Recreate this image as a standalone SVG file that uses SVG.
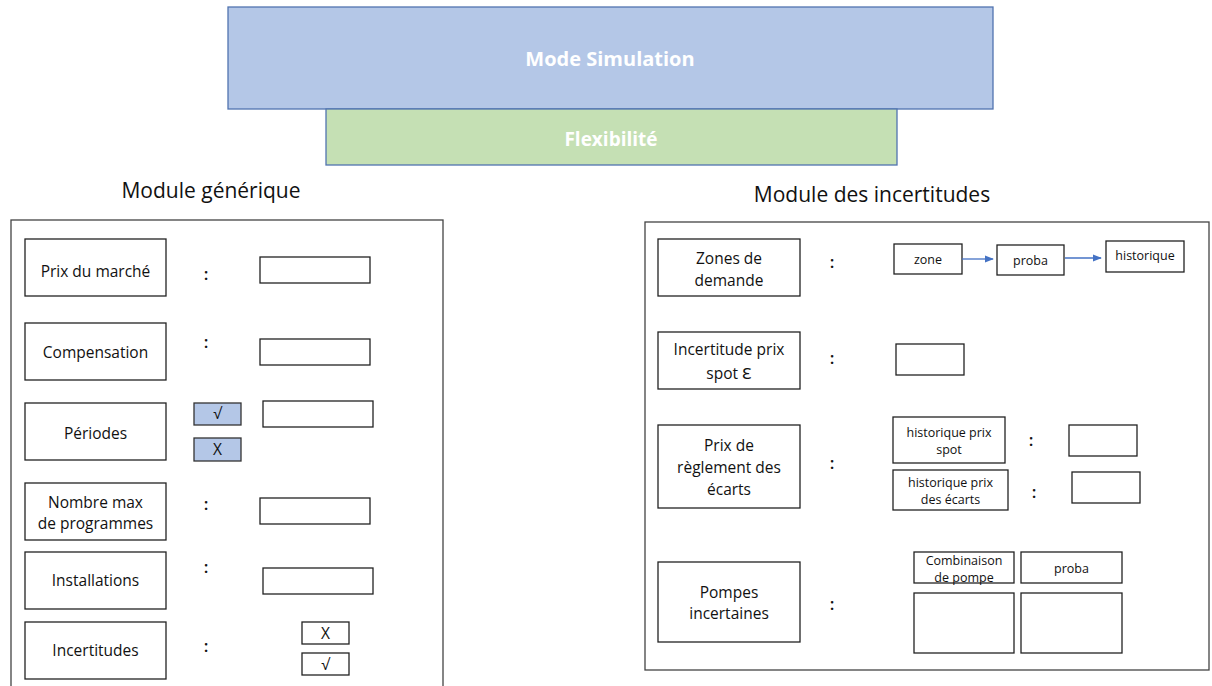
<svg xmlns="http://www.w3.org/2000/svg" width="1212" height="686" viewBox="0 0 1212 686">
<defs>
<style>
text{font-family:"Open Sans","Liberation Sans",sans-serif;fill:#111}
.b{fill:#fff;stroke:#222;stroke-width:1.3}
.p{fill:none;stroke:#444;stroke-width:1.3}
.chk{fill:#B4C7E7;stroke:#333;stroke-width:1.3}
.l{font-size:15.5px;text-anchor:middle}
.s{font-size:12.5px;text-anchor:middle}
.c{font-size:17px;text-anchor:middle;font-weight:600}
.t{font-size:21px;text-anchor:middle}
.a{stroke:#4472C4;stroke-width:1.3;fill:none}
</style>
<marker id="ah" viewBox="0 0 10 10" refX="9" refY="5" markerWidth="7" markerHeight="7" orient="auto"><path d="M0,1 L10,5 L0,9 z" fill="#4472C4"/></marker>
</defs>
<rect width="1212" height="686" fill="#fff"/>
<g id="mode-simulation">
<rect x="228" y="7" width="765" height="102" fill="#B4C7E7" stroke="#5174B0" stroke-width="1.3"/>
<text x="610" y="66" style="font-size:20px;font-weight:bold;fill:#fff;text-anchor:middle">Mode Simulation</text>
</g>
<g id="flexibilite">
<rect x="326" y="109" width="571" height="56" fill="#C5E0B4" stroke="#5174B0" stroke-width="1.3"/>
<text x="611" y="146" style="font-size:19px;font-weight:bold;fill:#fff;text-anchor:middle">Flexibilité</text>
</g>
<g id="module-generique">
<text class="t" x="211" y="198">Module générique</text>
<rect class="p" x="11" y="220" width="432" height="472"/>
</g>
<g id="prix-marche"><rect class="b" x="25" y="239" width="141" height="57"/><text class="l" x="95.5" y="276.5">Prix du marché</text><text class="c" x="206" y="280">:</text><rect class="b" x="260" y="257" width="110" height="26"/></g>
<g id="compensation"><rect class="b" x="25" y="323" width="141" height="57"/><text class="l" x="95.5" y="357.5">Compensation</text><text class="c" x="206" y="348">:</text><rect class="b" x="260" y="339" width="110" height="26"/></g>
<g id="periodes"><rect class="b" x="25" y="403" width="141" height="57"/><text class="l" x="95.5" y="438.5">Périodes</text>
<rect class="chk" x="194" y="403" width="47" height="22"/><text class="l" x="217.5" y="419">√</text>
<rect class="chk" x="194" y="438" width="47" height="23"/><text class="l" x="217.5" y="455">X</text>
<rect class="b" x="263" y="401" width="110" height="26"/></g>
<g id="nombre-max"><rect class="b" x="25" y="483" width="141" height="57"/><text class="l" x="95.5" y="507.5">Nombre max</text><text class="l" x="95.5" y="528.5">de programmes</text><text class="c" x="206" y="510">:</text><rect class="b" x="260" y="498" width="110" height="26"/></g>
<g id="installations"><rect class="b" x="25" y="552" width="141" height="57"/><text class="l" x="95.5" y="585.5">Installations</text><text class="c" x="206" y="573">:</text><rect class="b" x="263" y="568" width="110" height="26"/></g>
<g id="incertitudes"><rect class="b" x="25" y="622" width="141" height="57"/><text class="l" x="95.5" y="655.5">Incertitudes</text><text class="c" x="206" y="652">:</text>
<rect class="b" x="302" y="622" width="47" height="22"/><text class="l" x="325.5" y="638.5">X</text>
<rect class="b" x="302" y="653" width="47" height="22"/><text class="l" x="325.5" y="669.5">√</text></g>
<g id="module-incertitudes">
<text class="t" x="872" y="202">Module des incertitudes</text>
<rect class="p" x="645" y="222" width="564" height="448"/>
</g>
<g id="zones-demande"><rect class="b" x="658" y="239" width="142" height="57"/><text class="l" x="729" y="263.5">Zones de</text><text class="l" x="729" y="285.5">demande</text><text class="c" x="832" y="268">:</text>
<rect class="b" x="894" y="244" width="68" height="30"/><text class="s" x="928" y="263.5">zone</text>
<rect class="b" x="997" y="245" width="67" height="30"/><text class="s" x="1030.5" y="264.5">proba</text>
<rect class="b" x="1106" y="241" width="78" height="31"/><text class="s" x="1145" y="260">historique</text></g>
<g id="incertitude-spot"><rect class="b" x="658" y="332" width="142" height="57"/><text class="l" x="729" y="354.5">Incertitude prix</text><text class="l" x="729" y="379">spot  <tspan style="font-size:20px">ε</tspan></text><text class="c" x="832" y="364">:</text>
<rect class="b" x="896" y="344" width="68" height="31"/></g>
<g id="prix-reglement"><rect class="b" x="658" y="425" width="142" height="83"/><text class="l" x="729" y="450.5">Prix de</text><text class="l" x="729" y="472.5">règlement des</text><text class="l" x="729" y="494.5">écarts</text><text class="c" x="832" y="469">:</text>
<rect class="b" x="893" y="417" width="112" height="46"/><text class="s" x="949" y="437">historique prix</text><text class="s" x="949" y="454">spot</text><text class="c" x="1031" y="446">:</text><rect class="b" x="1069" y="425" width="68" height="31"/>
<rect class="b" x="893" y="470" width="115" height="40"/><text class="s" x="950.5" y="487">historique prix</text><text class="s" x="950.5" y="504">des écarts</text><text class="c" x="1034" y="498">:</text><rect class="b" x="1072" y="472" width="68" height="31"/></g>
<g id="pompes-incertaines"><rect class="b" x="658" y="562" width="142" height="80"/><text class="l" x="729" y="597.5">Pompes</text><text class="l" x="729" y="618.5">incertaines</text><text class="c" x="832" y="610">:</text>
<rect class="b" x="914" y="552" width="100" height="31"/><text class="s" x="964" y="564.5">Combinaison</text><text class="s" x="964" y="581.5">de pompe</text>
<rect class="b" x="1021" y="552" width="101" height="31"/><text class="s" x="1071.5" y="572.5">proba</text>
<rect class="b" x="914" y="593" width="100" height="60"/><rect class="b" x="1021" y="593" width="101" height="60"/></g>
<g id="connectors">
<line class="a" x1="962" y1="259" x2="993" y2="259" marker-end="url(#ah)"/>
<line class="a" x1="1065" y1="258" x2="1101" y2="258" marker-end="url(#ah)"/>
</g>
</svg>
